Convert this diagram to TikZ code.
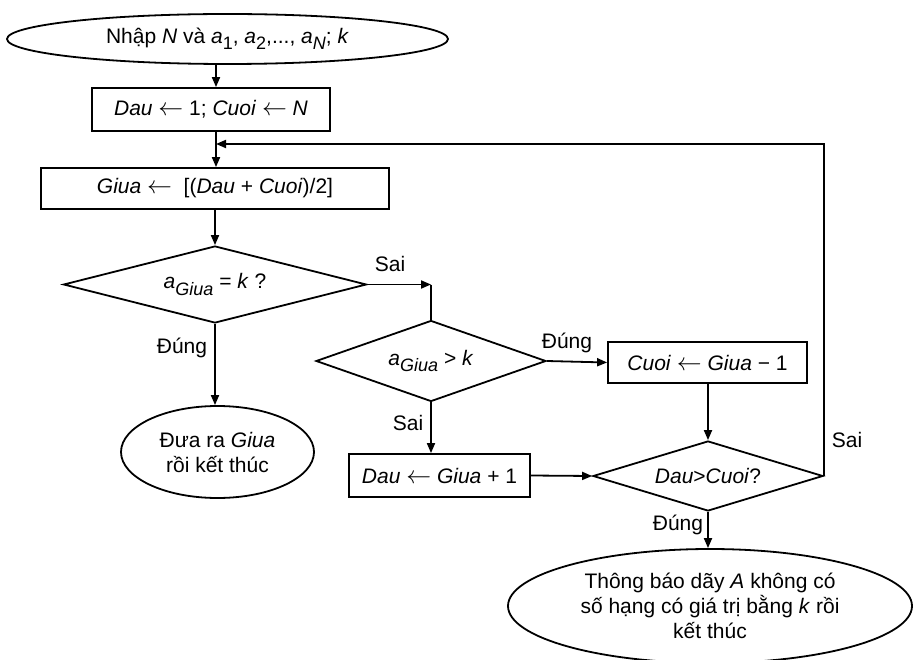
\documentclass[tikz,border=0pt]{standalone}
\usepackage{fontspec}
\setmainfont{Liberation Sans}
\usetikzlibrary{shapes.geometric,arrows.meta}

\newcommand{\duoi}[1]{\raisebox{-0.3em}{\fontsize{18}{18}\selectfont #1}}
\newcommand{\gan}{{\fontsize{24}{24}\selectfont$\leftarrow$}}

\tikzset{every picture/.style={line width=1.8pt}}
\tikzset{
  khoi/.style={draw, rectangle, inner sep=0pt, align=center},
  rehoi/.style={draw, diamond, inner sep=0pt, aspect=3, align=center},
  vao/.style={draw, ellipse, inner sep=0pt, align=center},
  muiten/.style={-{Triangle[length=10pt,width=8pt]}},
  nhan/.style={inner sep=0pt}
}

\begin{document}
\begin{tikzpicture}[x=1pt,y=1pt,yscale=-1,xscale=1,font=\fontsize{21}{25}\selectfont]
\useasboundingbox (0,0) rectangle (915,660);

%Shapes
\node [vao, minimum width=441, minimum height=50] (start) at (227.5,39) {Nhập \textit{N} và \textit{a}\duoi{1}, \textit{a}\duoi{2},..., \textit{a}\duoi{\textit{N}}; \textit{k}};
\node [khoi, minimum width=238, minimum height=43] (khoitao) at (211,109.5) {\textit{Dau} \gan{} 1; \textit{Cuoi} \gan{} \textit{N}};
\node [khoi, minimum width=348, minimum height=41] (giua) at (215,188.5) {\textit{Giua} \gan{}\ \ [(\textit{Dau} + \textit{Cuoi})/2]};
\node [rehoi, minimum width=303, minimum height=77] (hoi1) at (215,284.5) {\textit{a}\duoi{\textit{Giua}} = \textit{k} ?};
\node [vao, minimum width=193, minimum height=92] (ketqua) at (217.5,452) {Đưa ra \textit{Giua}\\ rồi kết thúc};
\node [rehoi, minimum width=230, minimum height=81] (hoi2) at (431,361) {\textit{a}\duoi{\textit{Giua}} > \textit{k}};
\node [khoi, minimum width=199, minimum height=41] (cuoi) at (707.5,362.5) {\textit{Cuoi} \gan{} \textit{Giua} − 1};
\node [khoi, minimum width=181, minimum height=43] (dau) at (439.5,475.5) {\textit{Dau} \gan{} \textit{Giua} + 1};
\node [rehoi, minimum width=230, minimum height=70] (hoi3) at (708,476) {\textit{Dau}>\textit{Cuoi}?};
\node [vao, minimum width=404, minimum height=114] (thongbao) at (710,606) {Thông báo dãy \textit{A} không có\\ số hạng có giá trị bằng \textit{k} rồi\\ kết thúc};

\coordinate (truc) at (216,0);
\coordinate (noi) at (216,144);

%Straight Lines
\draw [muiten] (start.south -| truc) -- (khoitao.north -| truc);
\draw [muiten] (khoitao.south -| truc) -- (giua.north -| truc);
\draw [muiten] (giua.south -| hoi1.north) -- (hoi1.north);
\draw [muiten] (hoi1.east) -- (hoi1.east -| hoi2.north);
\draw (hoi1.east -| hoi2.north) -- (hoi2.north);
\draw [muiten] (hoi1.south) -- (hoi1.south |- ketqua.north);
\draw [muiten] (hoi2.east) -- (cuoi.west);
\draw [muiten] (hoi2.south) -- (hoi2.south |- dau.north);
\draw [muiten] (cuoi.south -| hoi3.north) -- (hoi3.north);
\draw [muiten] (dau.east) -- (hoi3.west);
\draw [muiten] (hoi3.south) -- (hoi3.south |- thongbao.north);
\draw [muiten] (hoi3.east) -- (hoi3.east |- noi) -- (noi);

% Text Node
\node [nhan] (sai1) at (390,264) {Sai};
\node [nhan] (dung1) at (182,348) {Đúng};
\node [nhan] (dung2) at (567,343) {Đúng};
\node [nhan] (sai2) at (408,423) {Sai};
\node [nhan] (dung3) at (678,525) {Đúng};
\node [nhan] (sai3) at (847,440) {Sai};
\end{tikzpicture}
\end{document}
